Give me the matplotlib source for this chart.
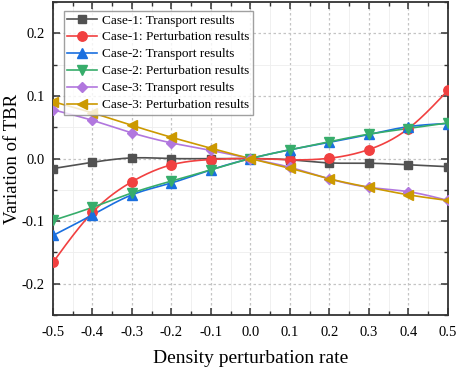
import numpy as np
import matplotlib
matplotlib.use("Agg")
import matplotlib.pyplot as plt
from matplotlib.ticker import MultipleLocator, FormatStrFormatter

rate = [-0.5, -0.4, -0.3, -0.2, -0.1, 0.0, 0.1, 0.2, 0.3, 0.4, 0.5]
case1_transport = [-0.016, -0.006, 0.001, 0.000, 0.000, 0.0, -0.002, -0.007, -0.0075, -0.010, -0.013]
case1_perturb = [-0.166, -0.086, -0.037, -0.010, -0.0016, 0.0, -0.002, 0.0005, 0.0144, 0.048, 0.109]
case2_transport = [-0.123, -0.090, -0.058, -0.039, -0.018, 0.0, 0.014, 0.026, 0.0385, 0.051, 0.056]
case2_perturb = [-0.099, -0.078, -0.055, -0.036, -0.018, 0.0, 0.014, 0.027, 0.039, 0.048, 0.057]
case3_transport = [0.078, 0.061, 0.041, 0.025, 0.013, 0.0, -0.014, -0.0325, -0.046, -0.053, -0.067]
case3_perturb = [0.091, 0.073, 0.053, 0.034, 0.0165, 0.0, -0.0155, -0.0325, -0.046, -0.058, -0.067]

labels = ["Case-1: Transport results", "Case-1: Perturbation results",
          "Case-2: Transport results", "Case-2: Perturbation results",
          "Case-3: Transport results", "Case-3: Perturbation results"]
series = [case1_transport, case1_perturb, case2_transport, case2_perturb,
          case3_transport, case3_perturb]
colors = ["#515151", "#F14040", "#1A6FDF", "#37AD6B", "#B177DE", "#CC9900"]
markers = ["s", "o", "^", "v", "D", "<"]
msizes = [6.0, 6.8, 6.5, 6.5, 5.5, 6.5]


def natural_spline(x, y, n=400):
    x = np.asarray(x, float)
    y = np.asarray(y, float)
    m = len(x)
    h = np.diff(x)
    A = np.zeros((m, m))
    b = np.zeros(m)
    A[0, 0] = 1
    A[-1, -1] = 1
    for i in range(1, m - 1):
        A[i, i - 1] = h[i - 1]
        A[i, i] = 2 * (h[i - 1] + h[i])
        A[i, i + 1] = h[i]
        b[i] = 3 * ((y[i + 1] - y[i]) / h[i] - (y[i] - y[i - 1]) / h[i - 1])
    c = np.linalg.solve(A, b)
    xs = np.linspace(x[0], x[-1], n)
    ys = np.empty_like(xs)
    for k, xv in enumerate(xs):
        i = min(np.searchsorted(x, xv, side="right") - 1, m - 2)
        dx = xv - x[i]
        bi = (y[i + 1] - y[i]) / h[i] - h[i] * (2 * c[i] + c[i + 1]) / 3
        di = (c[i + 1] - c[i]) / (3 * h[i])
        ys[k] = y[i] + bi * dx + c[i] * dx ** 2 + di * dx ** 3
    return xs, ys


plt.rcParams["font.family"] = ["Liberation Serif", "DejaVu Serif"]
plt.rcParams["mathtext.fontset"] = "stix"

fig = plt.figure(figsize=(4.57, 3.70), dpi=100)
ax = fig.add_axes([0.116, 0.149, 0.864, 0.845])

for ys, c, mk, ms, lab in zip(series, colors, markers, msizes, labels):
    xs_s, ys_s = natural_spline(rate, ys)
    ax.plot(xs_s, ys_s, color=c, lw=1.2, zorder=3)
    ax.plot(rate, ys, linestyle="none", marker=mk, ms=ms, color=c, zorder=4)
    ax.plot([], [], color=c, lw=1.2, marker=mk, ms=ms, label=lab)

ax.set_xlim(-0.5, 0.5)
ax.set_ylim(-0.25, 0.25)
ax.xaxis.set_major_locator(MultipleLocator(0.1))
ax.xaxis.set_minor_locator(MultipleLocator(0.05))
ax.yaxis.set_major_locator(MultipleLocator(0.1))
ax.yaxis.set_minor_locator(MultipleLocator(0.05))
ax.xaxis.set_major_formatter(FormatStrFormatter("%.1f"))
ax.yaxis.set_major_formatter(FormatStrFormatter("%.1f"))

ax.grid(which="minor", color="#eeeeee", lw=0.6, linestyle="-", zorder=0)
ax.grid(which="major", color="#c4c4c4", lw=0.9, linestyle=(0, (2, 2)), zorder=1)
ax.set_axisbelow(True)

ax.tick_params(which="both", direction="in", top=True, right=True,
               labelsize=10.5, color="#333333")
ax.tick_params(which="major", length=5, width=1.1, pad=6)
ax.tick_params(axis="x", which="major", pad=8)
ax.tick_params(which="minor", length=3, width=1.0)
for s in ax.spines.values():
    s.set_linewidth(1.3)
    s.set_color("#333333")

ax.set_xlabel("Density perturbation rate", fontsize=14, labelpad=8)
ax.set_ylabel("Variation of TBR", fontsize=13.5)
ax.yaxis.set_label_coords(-0.0805, 0.5)

leg = ax.legend(loc="upper left", bbox_to_anchor=(0.027, 0.972), fontsize=9.5,
                frameon=True, fancybox=False, edgecolor="#888888",
                handlelength=2.3, handletextpad=0.35, labelspacing=0.36,
                borderpad=0.25, borderaxespad=0.0)
leg.get_frame().set_linewidth(1.0)
leg.set_zorder(5)

fig.savefig("out.png", dpi=100)
